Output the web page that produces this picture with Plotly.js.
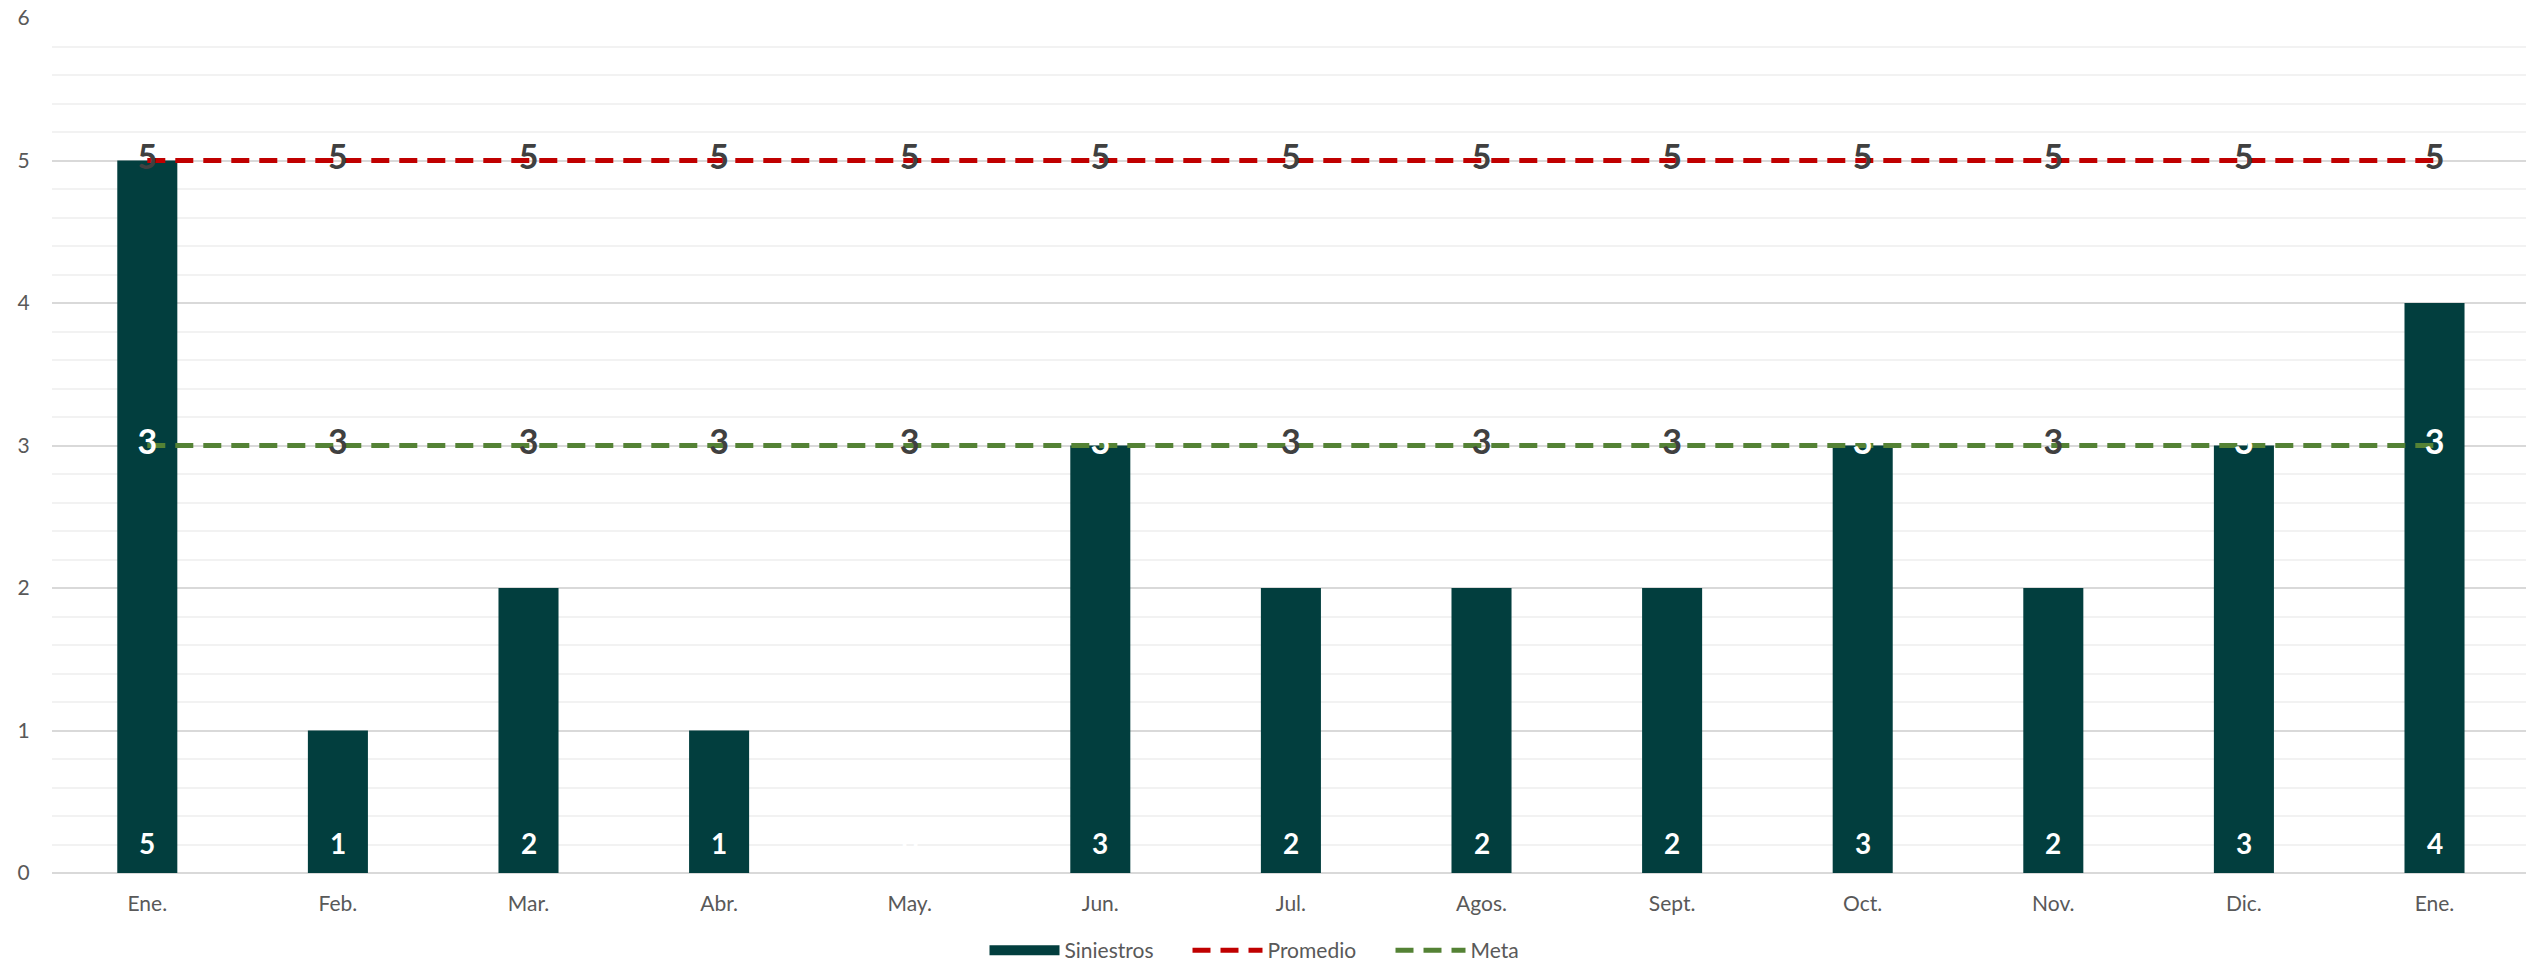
<!DOCTYPE html>
<html>
<head>
<meta charset="utf-8">
<script src="https://cdn.plot.ly/plotly-3.0.1.min.js"></script>
<style>html,body{margin:0;padding:0;background:#fff;overflow:hidden;}#chart{width:2526px;height:969px;}</style>
</head>
<body>
<div id="chart"></div>
<script>
const categories = ['Ene.','Feb.','Mar.','Abr.','May.','Jun.','Jul.','Agos.','Sept.','Oct.','Nov.','Dic.','Ene.'];
const siniestros = [5,1,2,1,0,3,2,2,2,3,2,3,4];
const promedio = [5,5,5,5,5,5,5,5,5,5,5,5,5];
const meta = [3,3,3,3,3,3,3,3,3,3,3,3,3];

const BAR = '#023E3E';
const RED = '#C00000';
const GREEN = '#548235';
const DARK = '#404040';
const FONT = 'Lato, "Open Sans", sans-serif';

const xs = categories.map((_, i) => i);

const traces = [
  {
    type: 'bar', x: xs, y: siniestros, width: 0.315,
    marker: {color: BAR}, name: 'Siniestros', showlegend: false, hoverinfo: 'y'
  },
  {
    type: 'scatter', mode: 'lines', x: [null], y: [null], name: 'Siniestros',
    line: {color: BAR, width: 13}, hoverinfo: 'skip'
  },
  {
    type: 'scatter', mode: 'lines+text', x: xs, y: promedio, name: 'Promedio',
    line: {color: RED, width: 5, dash: '18px,10px'},
    text: promedio.map(String), textposition: 'middle center',
    textfont: {family: FONT, size: 34, color: DARK, weight: 'bold'}
  },
  {
    type: 'scatter', mode: 'lines+text', x: xs, y: meta, name: 'Meta',
    line: {color: GREEN, width: 5, dash: '18px,10px'},
    text: meta.map(String), textposition: 'middle center',
    textfont: {family: FONT, size: 34, weight: 'bold',
      color: meta.map((m, i) => siniestros[i] >= m ? '#FFFFFF' : DARK)}
  }
];

const annotations = siniestros.map((v, i) => ({
  x: xs[i], y: 0, xref: 'x', yref: 'y', text: '<b>' + v + '</b>', showarrow: false,
  yshift: 30, yanchor: 'middle', xanchor: 'center',
  font: {family: FONT, size: 28, color: '#FFFFFF'}
}));

const layout = {
  width: 2526, height: 969,
  margin: {l: 52, r: 0, t: 18, b: 96, autoexpand: false},
  paper_bgcolor: '#fff', plot_bgcolor: '#fff',
  font: {family: FONT, size: 21, color: '#595959'},
  showlegend: true,
  legend: {
    orientation: 'h', xref: 'paper', x: 0.5, xanchor: 'center',
    yref: 'container', y: 0.019, yanchor: 'middle',
    font: {family: FONT, size: 21, color: '#595959'}, itemwidth: 70,
    entrywidth: 118, entrywidthmode: 'pixels',
    traceorder: 'normal'
  },
  xaxis: {
    range: [-0.5, 12.48], tickvals: xs, ticktext: categories,
    showgrid: false, zeroline: false, showline: false,
    ticks: 'outside', ticklen: 12, tickcolor: 'rgba(0,0,0,0)',
    tickfont: {family: FONT, size: 21, color: '#595959'}
  },
  yaxis: {
    range: [0, 6], dtick: 1, tick0: 0,
    showgrid: true, gridcolor: '#D9D9D9', gridwidth: 2,
    zeroline: true, zerolinecolor: '#D9D9D9', zerolinewidth: 2,
    showline: false,
    ticks: 'outside', ticklen: 17, tickcolor: 'rgba(0,0,0,0)',
    tickfont: {family: FONT, size: 21, color: '#595959'},
    minor: {dtick: 0.2, showgrid: true, gridcolor: '#F2F2F2', gridwidth: 2}
  },
  annotations: annotations
};

Plotly.newPlot('chart', traces, layout, {displayModeBar: false, staticPlot: true});
</script>
</body>
</html>
